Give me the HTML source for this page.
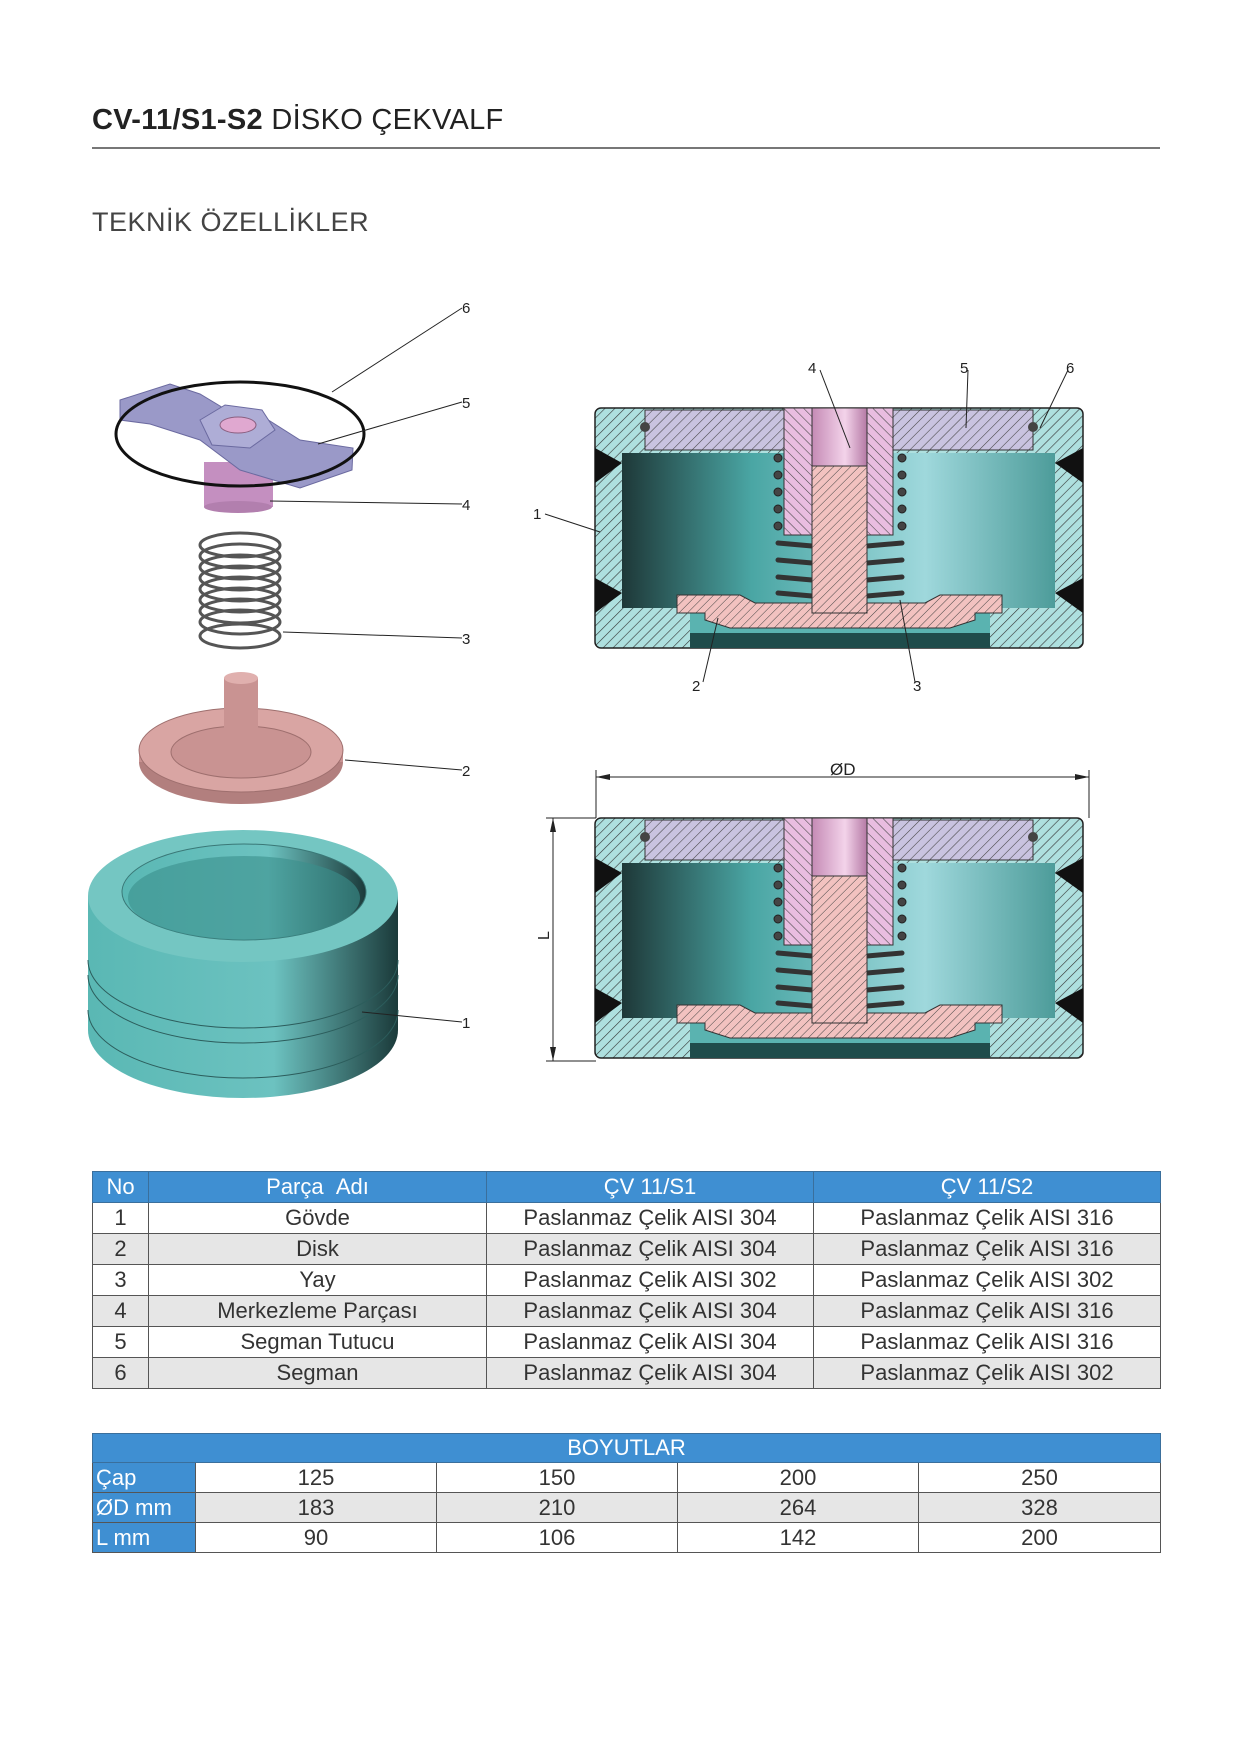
<!DOCTYPE html>
<html><head><meta charset="utf-8"><style>
body{margin:0;width:1241px;height:1754px;background:#fff;position:relative;font-family:"Liberation Sans",sans-serif;overflow:hidden}
.t{position:absolute;white-space:nowrap}
table{position:absolute;border-collapse:collapse;font-family:"Liberation Sans Narrow","Liberation Sans",sans-serif;color:#333;font-size:22px;table-layout:fixed}
td{border:1.5px solid #555;text-align:center;padding:0;}
tr.h td{background:#3f8fd2;color:#fff;border-color:#3a6f9c}
tr.g td{background:#e6e6e6}
td.b{background:#3f8fd2 !important;color:#fff;text-align:left;padding-left:3px}
</style></head><body>
<div class="t" style="left:92px;top:104px;font-size:29px;color:#222;letter-spacing:0.3px"><b>CV-11/S1-S2</b> <span style="font-weight:normal">DİSKO ÇEKVALF</span></div>
<div style="position:absolute;left:92px;top:147px;width:1068px;height:1.5px;background:#777"></div>
<div class="t" style="left:92px;top:207px;font-size:27px;color:#444;letter-spacing:0.5px">TEKNİK ÖZELLİKLER</div>

<svg width="1241" height="1754" style="position:absolute;left:0;top:0" font-family="Liberation Sans" font-size="15">
<defs>
<pattern id="ht" width="7" height="7" patternUnits="userSpaceOnUse" patternTransform="rotate(45)"><rect width="7" height="7" fill="#aee0df"/><line x1="0" y1="0" x2="0" y2="7" stroke="#333" stroke-width="1.2"/></pattern>
<pattern id="hp" width="7" height="7" patternUnits="userSpaceOnUse" patternTransform="rotate(45)"><rect width="7" height="7" fill="#c9c3e0"/><line x1="0" y1="0" x2="0" y2="7" stroke="#444" stroke-width="1.1"/></pattern>
<pattern id="hk" width="7" height="7" patternUnits="userSpaceOnUse" patternTransform="rotate(-45)"><rect width="7" height="7" fill="#e9bde0"/><line x1="0" y1="0" x2="0" y2="7" stroke="#444" stroke-width="1.1"/></pattern>
<pattern id="hs" width="6" height="6" patternUnits="userSpaceOnUse" patternTransform="rotate(45)"><rect width="6" height="6" fill="#f2c2c0"/><line x1="0" y1="0" x2="0" y2="6" stroke="#444" stroke-width="1"/></pattern>
<linearGradient id="cav" x1="0" x2="1"><stop offset="0" stop-color="#1e3838"/><stop offset="0.3" stop-color="#4aa6a4"/><stop offset="0.7" stop-color="#9fd8dc"/><stop offset="1" stop-color="#4d9c9a"/></linearGradient>
<linearGradient id="cyl" x1="0" x2="1"><stop offset="0" stop-color="#5ab8b4"/><stop offset="0.6" stop-color="#6cc2c0"/><stop offset="1" stop-color="#1b3a3a"/></linearGradient>
<linearGradient id="pk" x1="0" x2="1"><stop offset="0" stop-color="#c58ab5"/><stop offset="0.6" stop-color="#f3d3ea"/><stop offset="1" stop-color="#b57aa5"/></linearGradient>
<g id="sec">
 <rect x="0" y="0" width="488" height="240" rx="6" fill="url(#ht)" stroke="#222" stroke-width="1.5"/>
 <rect x="27" y="45" width="433" height="155" fill="url(#cav)"/>
 <rect x="95" y="200" width="300" height="40" fill="#1f4c4b"/>
 <rect x="95" y="205" width="300" height="20" fill="#5ab3b0"/>
 <polygon points="0,40 27,55 0,75" fill="#111"/><polygon points="488,40 460,55 488,75" fill="#111"/>
 <polygon points="0,170 27,185 0,205" fill="#111"/><polygon points="488,170 460,185 488,205" fill="#111"/>
 <rect x="50" y="2" width="157" height="40" fill="url(#hp)" stroke="#333"/>
 <rect x="282" y="2" width="156" height="40" fill="url(#hp)" stroke="#333"/>
 <circle cx="50" cy="19" r="5" fill="#444"/><circle cx="438" cy="19" r="5" fill="#444"/>
 <path d="M189,0 H298 V127 H272 V58 H217 V127 H189 Z" fill="url(#hk)" stroke="#333"/>
 <rect x="217" y="0" width="55" height="58" fill="url(#pk)" stroke="#333"/>
 <g fill="#444" stroke="#222">
  <circle cx="183" cy="50" r="4"/><circle cx="183" cy="67" r="4"/><circle cx="183" cy="84" r="4"/><circle cx="183" cy="101" r="4"/><circle cx="183" cy="118" r="4"/>
  <circle cx="307" cy="50" r="4"/><circle cx="307" cy="67" r="4"/><circle cx="307" cy="84" r="4"/><circle cx="307" cy="101" r="4"/><circle cx="307" cy="118" r="4"/>
 </g>
 <g stroke="#333" stroke-width="5" stroke-linecap="round">
  <line x1="183" y1="135" x2="217" y2="138"/><line x1="183" y1="152" x2="217" y2="155"/><line x1="183" y1="169" x2="217" y2="172"/><line x1="183" y1="185" x2="217" y2="188"/>
  <line x1="272" y1="138" x2="307" y2="135"/><line x1="272" y1="155" x2="307" y2="152"/><line x1="272" y1="172" x2="307" y2="169"/><line x1="272" y1="188" x2="307" y2="185"/>
 </g>
 <path d="M82,187 H145 L160,195 H330 L345,187 H407 V205 H380 V212 L355,220 H135 L110,212 V205 H82 Z" fill="url(#hs)" stroke="#333"/>
 <rect x="217" y="58" width="55" height="147" fill="url(#hs)" stroke="#333"/>
</g>
</defs>

<ellipse cx="243" cy="1030" rx="155" ry="68" fill="url(#cyl)"/>
<rect x="88" y="896" width="310" height="134" fill="url(#cyl)"/>
<g stroke="#2c5d5c" stroke-width="1" fill="none"><path d="M88,960 A155,68 0 0 0 398,960"/><path d="M88,975 A155,68 0 0 0 398,975"/><path d="M88,1010 A155,68 0 0 0 398,1010"/></g>
<ellipse cx="243" cy="896" rx="155" ry="66" fill="#74c6c2"/>
<ellipse cx="244" cy="892" rx="122" ry="48" fill="url(#cyl)" stroke="#3a7877"/>
<ellipse cx="244" cy="898" rx="116" ry="42" fill="#3a8f8c" opacity="0.6"/>
<ellipse cx="241" cy="762" rx="102" ry="42" fill="#b27f7e"/>
<rect x="139" y="750" width="204" height="12" fill="#c99392"/>
<ellipse cx="241" cy="750" rx="102" ry="42" fill="#d9a5a3" stroke="#9e6f6e"/>
<ellipse cx="241" cy="752" rx="70" ry="26" fill="#c99392" stroke="#9e6f6e"/>
<rect x="224" y="678" width="34" height="80" fill="#c99392"/>
<ellipse cx="241" cy="678" rx="17" ry="6" fill="#e0b0ae"/>
<g fill="none" stroke="#555" stroke-width="3">
<ellipse cx="240" cy="545" rx="40" ry="12"/><ellipse cx="240" cy="556" rx="40" ry="12"/><ellipse cx="240" cy="567" rx="40" ry="12"/><ellipse cx="240" cy="578" rx="40" ry="12"/><ellipse cx="240" cy="589" rx="40" ry="12"/><ellipse cx="240" cy="600" rx="40" ry="12"/><ellipse cx="240" cy="611" rx="40" ry="12"/><ellipse cx="240" cy="622" rx="40" ry="12"/><ellipse cx="240" cy="636" rx="40" ry="12"/>
</g>
<rect x="204" y="462" width="69" height="45" fill="#c48fc0"/>
<ellipse cx="238" cy="507" rx="34" ry="6" fill="#b27fae"/>
<polygon points="120,400 170,384 200,394 230,412 262,416 300,440 353,448 352,470 300,488 240,470 200,440 150,424 120,420" fill="#9a99c8" stroke="#6b6aa0"/>
<polygon points="200,420 225,405 262,410 275,430 250,448 212,445" fill="#aeadd6" stroke="#6b6aa0"/>
<ellipse cx="238" cy="425" rx="18" ry="8" fill="#e0a8d0" stroke="#8a5f80"/>
<ellipse cx="240" cy="434" rx="124" ry="52" fill="none" stroke="#111" stroke-width="3"/>
<g stroke="#222" stroke-width="1"><line x1="462" y1="308" x2="332" y2="392"/><line x1="462" y1="402" x2="318" y2="444"/><line x1="462" y1="504" x2="270" y2="501"/><line x1="462" y1="638" x2="283" y2="632"/><line x1="462" y1="770" x2="345" y2="760"/><line x1="462" y1="1022" x2="362" y2="1012"/></g>
<g fill="#222"><text x="462" y="313">6</text><text x="462" y="408">5</text><text x="462" y="510">4</text><text x="462" y="644">3</text><text x="462" y="776">2</text><text x="462" y="1028">1</text></g>

<use href="#sec" x="595" y="408"/>
<use href="#sec" x="595" y="818"/>
<g stroke="#222" stroke-width="1"><line x1="820" y1="370" x2="850" y2="448"/><line x1="968" y1="370" x2="966" y2="428"/><line x1="1068" y1="370" x2="1040" y2="428"/><line x1="545" y1="514" x2="600" y2="532"/><line x1="703" y1="682" x2="718" y2="618"/><line x1="915" y1="682" x2="900" y2="600"/></g>
<g fill="#222"><text x="808" y="373">4</text><text x="960" y="373">5</text><text x="1066" y="373">6</text><text x="533" y="519">1</text><text x="692" y="691">2</text><text x="913" y="691">3</text></g>
<g stroke="#222" stroke-width="1"><line x1="596" y1="770" x2="596" y2="818"/><line x1="1089" y1="770" x2="1089" y2="818"/><line x1="596" y1="777" x2="1089" y2="777"/><line x1="546" y1="818" x2="596" y2="818"/><line x1="546" y1="1061" x2="596" y2="1061"/><line x1="553" y1="818" x2="553" y2="1061"/></g>
<g fill="#222"><polygon points="596,777 610,774 610,780"/><polygon points="1089,777 1075,774 1075,780"/><polygon points="553,818 550,832 556,832"/><polygon points="553,1061 550,1047 556,1047"/></g>
<text x="830" y="775" fill="#222" font-size="17">ØD</text>
<text x="0" y="0" fill="#222" font-size="16" transform="translate(549,940) rotate(-90)">L</text>
</svg>

<table style="left:92px;top:1171px;width:1068px">
<colgroup><col style="width:56px"><col style="width:338px"><col style="width:327px"><col style="width:347px"></colgroup>
<tr class="h" style="height:31px"><td>No</td><td>Parça &nbsp;Adı</td><td>ÇV 11/S1</td><td>ÇV 11/S2</td></tr>
<tr style="height:31px"><td>1</td><td>Gövde</td><td>Paslanmaz Çelik AISI 304</td><td>Paslanmaz Çelik AISI 316</td></tr>
<tr class="g" style="height:31px"><td>2</td><td>Disk</td><td>Paslanmaz Çelik AISI 304</td><td>Paslanmaz Çelik AISI 316</td></tr>
<tr style="height:31px"><td>3</td><td>Yay</td><td>Paslanmaz Çelik AISI 302</td><td>Paslanmaz Çelik AISI 302</td></tr>
<tr class="g" style="height:31px"><td>4</td><td>Merkezleme Parçası</td><td>Paslanmaz Çelik AISI 304</td><td>Paslanmaz Çelik AISI 316</td></tr>
<tr style="height:31px"><td>5</td><td>Segman Tutucu</td><td>Paslanmaz Çelik AISI 304</td><td>Paslanmaz Çelik AISI 316</td></tr>
<tr class="g" style="height:31px"><td>6</td><td>Segman</td><td>Paslanmaz Çelik AISI 304</td><td>Paslanmaz Çelik AISI 302</td></tr>
</table>

<table style="left:92px;top:1433px;width:1068px">
<colgroup><col style="width:103px"><col style="width:241px"><col style="width:241px"><col style="width:241px"><col style="width:242px"></colgroup>
<tr class="h" style="height:29px"><td colspan="5">BOYUTLAR</td></tr>
<tr style="height:30px"><td class="b">Çap</td><td>125</td><td>150</td><td>200</td><td>250</td></tr>
<tr class="g" style="height:30px"><td class="b">ØD mm</td><td>183</td><td>210</td><td>264</td><td>328</td></tr>
<tr style="height:30px"><td class="b">L mm</td><td>90</td><td>106</td><td>142</td><td>200</td></tr>
</table>
</body></html>
